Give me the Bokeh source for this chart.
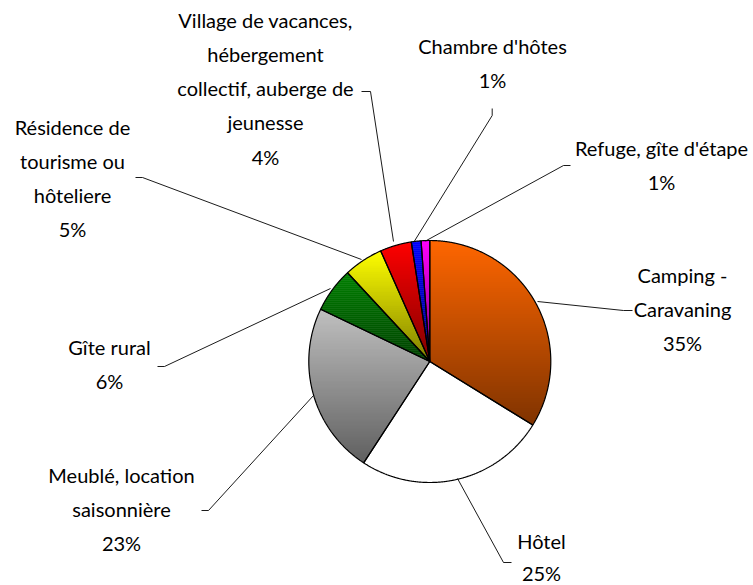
import numpy as np
from bokeh.plotting import figure
from bokeh.models import Range1d
from bokeh.embed import file_html
from bokeh.resources import INLINE
from bokeh.core.properties import value

# ---- data ----
categories = ["Camping - Caravaning", "Hôtel", "Meublé, location saisonnière",
              "Gîte rural", "Résidence de tourisme ou hôteliere",
              "Village de vacances, hébergement collectif, auberge de jeunesse",
              "Chambre d'hôtes", "Refuge, gîte d'étape"]
shares = [33.8, 25.4, 22.9, 6.0, 5.25, 4.2, 1.3, 1.15]
pct_labels = ["35%", "25%", "23%", "6%", "5%", "4%", "1%", "1%"]
label_lines = [["Camping -", "Caravaning"],
               ["Hôtel"],
               ["Meublé, location", "saisonnière"],
               ["Gîte rural"],
               ["Résidence de", "tourisme ou", "hôteliere"],
               ["Village de vacances,", "hébergement", "collectif, auberge de", "jeunesse"],
               ["Chambre d'hôtes"],
               ["Refuge, gîte d'étape"]]
colors = ["#FF6600", "#FFFFFF", "#C0C0C0", "#008000", "#FFFF00", "#FF0000", "#0000FF", "#FF00FF"]

# ---- layout (pixel coordinates of the picture) ----
CX, CY, R = 429.3, 361.0, 121.0
label_pos = [(682, 274), (541, 540), (121, 474), (109, 346), (72, 126), (265, 19), (492, 45), (661, 147)]
LINE_H = 34.3
leaders = [
    [(632, 310), (623, 310), (537, 301)],
    [(511, 562), (503, 562), (457, 478)],
    [(201, 510), (208, 510), (313, 395)],
    [(157, 366), (164, 366), (330, 288)],
    [(135, 177), (142, 177), (361, 259)],
    [(361, 91), (370, 91), (393, 241)],
    [(491.7, 108), (491.7, 115), (414, 240.5)],
    [(570, 165), (563, 165), (425, 240.5)],
]

W, H = 753, 585
p = figure(width=W, height=H, x_range=Range1d(0, W), y_range=Range1d(H, 0),
           output_backend="svg", toolbar_location=None, min_border=0)
p.axis.visible = False
p.grid.visible = False
p.outline_line_color = None
p.background_fill_color = "#FFFFFF"
p.border_fill_color = "#FFFFFF"


def hex2rgb(h):
    h = h.lstrip("#")
    return tuple(int(h[i:i + 2], 16) for i in (0, 2, 4))


def rgb2hex(c):
    return "#%02x%02x%02x" % tuple(int(round(max(0, min(255, v)))) for v in c)


def clip_half(poly, y0, keep_greater):
    out = []
    n = len(poly)
    for i in range(n):
        a = poly[i]
        b = poly[(i + 1) % n]
        ina = (a[1] >= y0) if keep_greater else (a[1] <= y0)
        inb = (b[1] >= y0) if keep_greater else (b[1] <= y0)
        if ina:
            out.append(a)
        if ina != inb:
            t = (y0 - a[1]) / (b[1] - a[1])
            out.append((a[0] + t * (b[0] - a[0]), y0))
    return out


total = float(sum(shares))
angles = np.cumsum([0.0] + [s / total * 360.0 for s in shares])

outline_xs, outline_ys = [], []
band_xs, band_ys, band_cols = [], [], []
for i in range(len(shares)):
    a0, a1 = angles[i], angles[i + 1]
    n = max(4, int((a1 - a0) / 0.25))
    th = np.radians(np.linspace(a0, a1, n + 1))
    px = [CX] + list(CX + R * np.sin(th))
    py = [CY] + list(CY - R * np.cos(th))
    poly = list(zip(px, py))
    outline_xs.append(px)
    outline_ys.append(py)
    base = np.array(hex2rgb(colors[i]), dtype=float)
    ytop, ybot = min(py), max(py)
    step = 2.0
    y = ytop
    while y < ybot:
        y1 = min(y + step, ybot)
        part = clip_half(poly, y - 0.6, True)
        part = clip_half(part, y1, False) if part else []
        if len(part) >= 3:
            t = ((y + y1) / 2 - ytop) / max(1e-6, (ybot - ytop))
            if colors[i].upper() == "#FFFFFF":
                c = base
            else:
                c = base * (1 - 0.5 * t)
            band_xs.append([q[0] for q in part])
            band_ys.append([q[1] for q in part])
            band_cols.append(rgb2hex(c))
        y = y1

p.patches(band_xs, band_ys, fill_color=band_cols, line_color=None)
p.patches(outline_xs, outline_ys, fill_color=None, line_color="#000000", line_width=1.2)

# leader lines
p.multi_line([[q[0] for q in L] for L in leaders], [[q[1] for q in L] for L in leaders],
             line_color="#000000", line_width=0.9)

# labels
tx, ty, tt = [], [], []
for i, lines in enumerate(label_lines):
    x0, y0 = label_pos[i]
    allines = lines + [pct_labels[i]]
    for k, s in enumerate(allines):
        tx.append(x0)
        ty.append(min(y0 + k * LINE_H, 572))
        tt.append(s)
p.text(x=tx, y=ty, text=tt, text_font=value("Lato"), text_font_size="20px",
       text_align="center", text_baseline="middle", text_color="#000000")

open("out.html", "w").write(file_html(p, INLINE))
